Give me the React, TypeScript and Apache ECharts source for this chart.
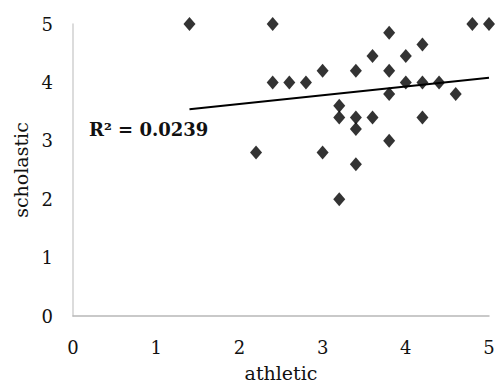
import React, { useEffect, useRef } from "react";
import * as echarts from "echarts";

const athletic = [1.4, 2.4, 4.8, 5.0, 3.8, 4.2, 3.6, 4.0, 3.0, 3.4, 3.8, 2.4, 2.6, 2.8, 4.0, 4.2, 4.4, 3.8, 4.6, 3.2, 3.2, 3.4, 3.6, 4.2, 3.4, 3.8, 2.2, 3.0, 3.4, 3.2];
const scholastic = [5.0, 5.0, 5.0, 5.0, 4.85, 4.65, 4.45, 4.45, 4.2, 4.2, 4.2, 4.0, 4.0, 4.0, 4.0, 4.0, 4.0, 3.8, 3.8, 3.6, 3.4, 3.4, 3.4, 3.4, 3.2, 3.0, 2.8, 2.8, 2.6, 2.0];
const trendX = [1.4, 5.0];
const trendY = [3.54, 4.08];
const xTicks = [0, 1, 2, 3, 4, 5];
const yTicks = [0, 1, 2, 3, 4, 5];
const r2Label = "R² = 0.0239";

const FONT = "DejaVu Serif";

export default function App() {
  const ref = useRef<HTMLDivElement>(null);
  useEffect(() => {
    if (!ref.current) return;
    const chart = echarts.init(ref.current, null, { renderer: "svg" });
    const points = athletic.map((x, i) => [x, scholastic[i]]);
    const trend = trendX.map((x, i) => [x, trendY[i]]);
    chart.setOption({
      animation: false,
      backgroundColor: "#fff",
      grid: { left: 73, right: 10, top: 24, bottom: 75 },
      xAxis: {
        type: "value",
        min: xTicks[0],
        max: xTicks[xTicks.length - 1],
        interval: 1,
        name: "athletic",
        nameLocation: "middle",
        nameGap: 47,
        nameTextStyle: { fontFamily: FONT, fontSize: 19, color: "#111" },
        axisLine: { show: true, lineStyle: { color: "#b8b8b8", width: 1.5 } },
        axisTick: { show: false },
        splitLine: { show: false },
        axisLabel: { fontFamily: FONT, fontSize: 18, color: "#111", margin: 22 },
      },
      yAxis: {
        type: "value",
        min: yTicks[0],
        max: yTicks[yTicks.length - 1],
        interval: 1,
        name: "scholastic",
        nameLocation: "middle",
        nameGap: 42,
        nameRotate: 90,
        nameTextStyle: { fontFamily: FONT, fontSize: 19, color: "#111" },
        axisLine: { show: true, lineStyle: { color: "#d0d0d0", width: 1.5 } },
        axisTick: { show: false },
        splitLine: { show: false },
        axisLabel: { fontFamily: FONT, fontSize: 18, color: "#111", margin: 20 },
      },
      series: [
        {
          type: "scatter",
          data: points,
          symbol: "diamond",
          symbolSize: [12, 14],
          itemStyle: { color: "#000" },
          z: 3,
        },
        {
          type: "line",
          data: trend,
          symbol: "none",
          lineStyle: { color: "#000", width: 2 },
          z: 2,
        },
      ],
      graphic: [
        {
          type: "text",
          left: 89,
          top: 120,
          style: {
            text: r2Label,
            fontFamily: FONT,
            fontSize: 18,
            fontWeight: "bold",
            fill: "#111",
          },
        },
      ],
    });
    return () => chart.dispose();
  }, []);
  return <div ref={ref} style={{ width: 499, height: 391, position: "absolute", left: 0, top: 0 }} />;
}
